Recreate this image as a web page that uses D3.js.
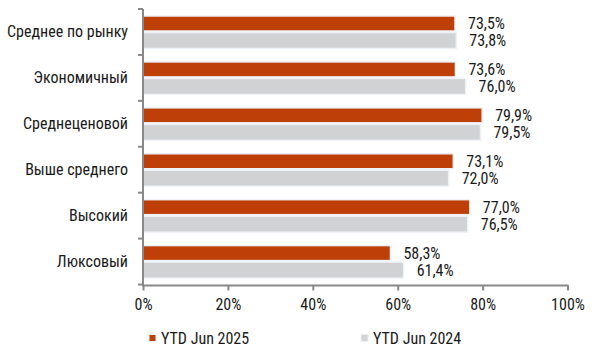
<!DOCTYPE html>
<html><head><meta charset="utf-8">
<script src="https://cdn.jsdelivr.net/npm/d3@7"></script>
<style>
html,body{margin:0;padding:0;background:#fff;}
text{font-family:"Roboto Condensed","Liberation Sans Narrow","Roboto",sans-serif;fill:#1a1a1a;}
</style></head><body>
<svg id="c" width="603" height="355"></svg>
<script>
const categories = ["Среднее по рынку","Экономичный","Среднеценовой","Выше среднего","Высокий","Люксовый"];
const series2025 = [73.5,73.6,79.9,73.1,77.0,58.3];
const series2024 = [73.8,76.0,79.5,72.0,76.5,61.4];
const seriesNames = ["YTD Jun 2025","YTD Jun 2024"];
const xTicks = [0,20,40,60,80,100];

const svg = d3.select("#c");
const x = d3.scaleLinear().domain([0,100]).range([143,567.5]);
const y = d3.scaleBand().domain(categories).range([9,284.5]);
const colors = ["#bf3f08","#d1d2d4"];
const fmt = v => v.toFixed(1).replace(".",",") + "%";
const FS = 16;

const g = svg.append("g");
categories.forEach((c,i)=>{
  const b = y(c);
  [[series2025[i],7,15,0],[series2024[i],23.5,16,1]].forEach(([v,off,h,k])=>{
    g.append("rect").attr("x",x(0)).attr("y",b+off).attr("width",x(v)-x(0)).attr("height",h)
      .attr("fill",colors[k]).attr("stroke","#eef1f6").attr("stroke-width",1.5);
    g.append("text").attr("x",x(v)+13).attr("y",b+off+h/2).attr("dy","0.35em")
      .attr("font-size",FS).text(fmt(v));
  });
});

// y axis
const ya = svg.append("g").attr("transform","translate(143,0)")
  .call(d3.axisLeft(y).tickSize(0).tickPadding(15).tickFormat(d=>d));
ya.select(".domain").remove();
ya.selectAll("text").attr("font-size",FS).style("font-family",null).attr("fill","#1a1a1a");
const bounds = [y.range()[0]].concat(categories.map(c=>y(c)+y.bandwidth()));
svg.append("line").attr("x1",143).attr("x2",143).attr("y1",y.range()[0]).attr("y2",y.range()[1]+1)
  .attr("stroke","#888").attr("stroke-width",2);
bounds.forEach(b=>svg.append("line").attr("x1",138).attr("x2",143).attr("y1",b).attr("y2",b).attr("stroke","#888").attr("stroke-width",2));

// x axis
const xa = svg.append("g").attr("transform","translate(0,285.5)")
  .call(d3.axisBottom(x).tickValues(xTicks).tickSize(5).tickPadding(8).tickFormat(d=>d+"%"));
xa.select(".domain").attr("stroke","#888").attr("stroke-width",2).attr("d","M"+(x(0)-1)+",0H"+(x(100)+1));
xa.selectAll("line").attr("stroke","#888").attr("stroke-width",2);
xa.selectAll("text").attr("font-size",FS).style("font-family",null).attr("fill","#1a1a1a");

// legend
const lx = [149,361];
seriesNames.forEach((n,k)=>{
  svg.append("rect").attr("x",lx[k]).attr("y",334.5).attr("width",7).attr("height",7)
    .attr("fill",colors[k]).attr("stroke","#eef1f6").attr("stroke-width",1);
  svg.append("text").attr("x",lx[k]+12).attr("y",338).attr("dy","0.35em").attr("font-size",FS).text(n);
});
</script></body></html>
